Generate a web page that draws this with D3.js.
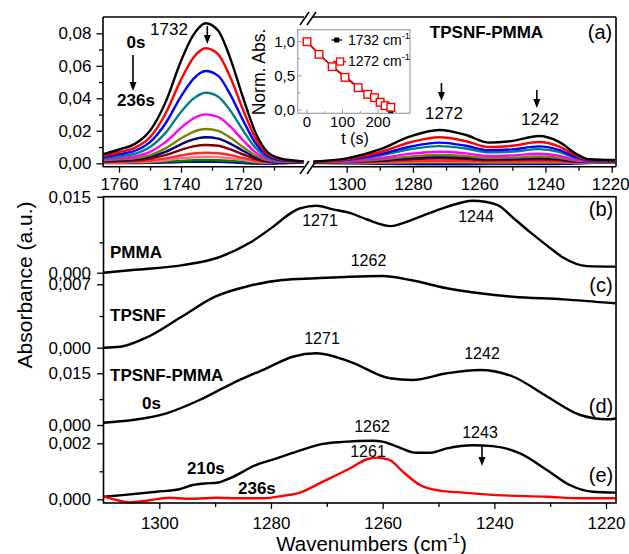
<!DOCTYPE html>
<html><head><meta charset="utf-8">
<script src="https://cdn.jsdelivr.net/npm/d3@7/dist/d3.min.js"></script>
<style>body{margin:0;background:#fff}svg{display:block}</style>
</head><body><svg id="c" width="629" height="554"></svg>
<script>
// ---------------- DATA ----------------
// Panel (a): wavenumber grids
const wnLeft  = [1765,1760,1755,1750,1745,1740,1736,1732,1728,1724,1720,1716,1712,1708,1704,1700.5];
const wnRight = [1310,1300,1290,1281,1272,1264,1257,1250,1242,1236,1231,1227,1219];
// Panel (a): spectra (0 s ... 236 s), C=O region
const left01 = [0.0057,0.0085,0.0118,0.0200,0.0375,0.0630,0.0790,0.0862,0.0815,0.0640,0.0405,0.0190,0.0068,0.0030,0.0018,0.0012];
const left02 = [0.0045,0.0068,0.0095,0.0160,0.0305,0.0515,0.0650,0.0708,0.0670,0.0525,0.0330,0.0155,0.0055,0.0025,0.0016,0.0012];
const left03 = [0.0037,0.0055,0.0076,0.0130,0.0245,0.0412,0.0520,0.0568,0.0538,0.0420,0.0265,0.0125,0.0045,0.0020,0.0014,0.0012];
const left04 = [0.0030,0.0043,0.0058,0.0100,0.0187,0.0316,0.0398,0.0434,0.0410,0.0322,0.0203,0.0096,0.0035,0.0016,0.0012,0.0011];
const left05 = [0.0024,0.0032,0.0042,0.0070,0.0130,0.0218,0.0276,0.0301,0.0285,0.0224,0.0142,0.0067,0.0025,0.0012,0.0010,0.0010];
const left06 = [0.0018,0.0024,0.0031,0.0050,0.0092,0.0153,0.0194,0.0211,0.0200,0.0157,0.0100,0.0048,0.0018,0.0009,0.0008,0.0009];
const left07 = [0.0014,0.0019,0.0025,0.0040,0.0070,0.0117,0.0147,0.0160,0.0152,0.0120,0.0077,0.0037,0.0012,0.0004,0.0005,0.0008];
const left08 = [0.0010,0.0014,0.0018,0.0029,0.0050,0.0083,0.0104,0.0113,0.0108,0.0085,0.0055,0.0027,0.0010,0.0004,0.0004,0.0007];
const left09 = [0.0006,0.0008,0.0011,0.0017,0.0030,0.0048,0.0060,0.0065,0.0062,0.0050,0.0033,0.0017,0.0007,0.0003,0.0004,0.0006];
const left10 = [0.0004,0.0005,0.0007,0.0011,0.0019,0.0030,0.0037,0.0040,0.0038,0.0031,0.0021,0.0011,0.0004,0.0002,0.0003,0.0005];
const left11 = [0.0003,0.0003,0.0004,0.0006,0.0010,0.0015,0.0019,0.0020,0.0019,0.0015,0.0010,0.0005,0.0002,0.0001,0.0002,0.0004];
const left12 = [0.0002,0.0002,0.0002,0.0003,0.0005,0.0008,0.0010,0.0010,0.0009,0.0006,0.0002,-0.0002,-0.0003,0.0000,0.0004,0.0006];
// Panel (a): spectra, C-O-C region
const right01 = [0.0010,0.0030,0.0085,0.0164,0.0205,0.0174,0.0127,0.0137,0.0168,0.0133,0.0062,0.0025,0.0020];
const right02 = [0.0010,0.0025,0.0068,0.0128,0.0160,0.0136,0.0100,0.0108,0.0131,0.0104,0.0050,0.0022,0.0019];
const right03 = [0.0010,0.0021,0.0055,0.0102,0.0127,0.0108,0.0080,0.0086,0.0104,0.0083,0.0040,0.0019,0.0018];
const right04 = [0.0010,0.0018,0.0047,0.0086,0.0106,0.0091,0.0067,0.0072,0.0087,0.0070,0.0034,0.0017,0.0017];
const right05 = [0.0009,0.0014,0.0032,0.0058,0.0071,0.0061,0.0045,0.0049,0.0059,0.0047,0.0023,0.0014,0.0015];
const right06 = [0.0008,0.0011,0.0023,0.0041,0.0051,0.0044,0.0033,0.0035,0.0042,0.0034,0.0017,0.0012,0.0014];
const right07 = [0.0007,0.0009,0.0018,0.0031,0.0040,0.0034,0.0025,0.0027,0.0032,0.0026,0.0013,0.0010,0.0012];
const right08 = [0.0006,0.0008,0.0014,0.0025,0.0031,0.0027,0.0020,0.0021,0.0025,0.0021,0.0010,0.0009,0.0011];
const right09 = [0.0005,0.0006,0.0008,0.0013,0.0016,0.0014,0.0011,0.0011,0.0013,0.0011,0.0007,0.0007,0.0010];
const right10 = [0.0004,0.0004,0.0005,0.0008,0.0010,0.0009,0.0007,0.0007,0.0008,0.0007,0.0005,0.0006,0.0009];
const right11 = [0.0003,0.0002,0.0002,0.0003,0.0004,0.0003,0.0002,0.0002,0.0003,0.0003,0.0003,0.0005,0.0008];
const right12 = [0.0002,0.0000,-0.0003,-0.0005,-0.0006,-0.0006,-0.0005,-0.0005,-0.0005,-0.0004,-0.0002,0.0002,0.0006];
const specColors = ["#000000","#ff0000","#0000ff","#008080","#ff00ff","#808000","#000080","#800000","#ff2a2a","#ff6f8f","#008000","#0000a8"];

// Inset
const insetTime = [0,34,71,107,144,171,190,206,220,236];
const inset1732 = [1.0,0.815,0.64,0.49,0.335,0.225,0.165,0.10,0.05,-0.01];
const inset1272 = [1.0,0.815,0.634,0.478,0.327,0.229,0.180,0.113,0.063,0.040];

// Panel (b) PMMA
const pmmaWn  = [1310,1304.8,1295.8,1289.7,1283.8,1279.7,1276.1,1274.8,1271.8,1268.9,1265.9,1262.8,1258.5,1255.6,1251.5,1248.5,1243.8,1239.5,1236.6,1233.6,1230.5,1227.7,1223.4,1218.3];
const pmmaAbs = [0,0.00053,0.0015,0.0029,0.0059,0.0090,0.0120,0.0127,0.0132,0.0125,0.0118,0.0105,0.0092,0.0101,0.0118,0.0130,0.0142,0.0134,0.0108,0.0080,0.0053,0.0030,0.0013,0.0012];
// Panel (c) TPSNF
const tpsnfWn  = [1310,1307,1302,1296,1290,1284,1278,1272,1266,1260,1255,1248.5,1242.6,1236.7,1227.7,1218.3];
const tpsnfAbs = [0,0.00011,0.00121,0.00342,0.00563,0.00681,0.00747,0.00766,0.00784,0.00792,0.00747,0.00656,0.00601,0.00563,0.00534,0.0049];
// Panel (d) TPSNF-PMMA 0 s
const blend0Wn  = [1310,1304.8,1298.7,1292.8,1286.9,1280.8,1276.1,1271.8,1265.9,1258.7,1254.6,1248.5,1242.6,1236.6,1230.5,1224.6,1219.8,1218.2];
const blend0Abs = [0.00067,0.00145,0.0034,0.00725,0.0121,0.01645,0.0198,0.0208,0.0184,0.01355,0.01306,0.0150,0.01596,0.0140,0.0082,0.0029,0.00165,0.0019];
// Panel (e) 210 s and 236 s
const b210Wn  = [1310,1306.6,1300.5,1296.4,1294.0,1291.5,1289.7,1287.4,1282.6,1279.0,1275.4,1270.7,1267.1,1261.7,1260.0,1257.4,1253.9,1251.5,1248.5,1243.8,1240.3,1235.4,1230.6,1226.5,1222.4,1218.3];
const b210Abs = [0.000093,0.00015,0.00027,0.00036,0.00051,0.00057,0.00059,0.00075,0.00123,0.00146,0.0017,0.00198,0.00205,0.00209,0.00206,0.00188,0.00166,0.00166,0.00182,0.00193,0.0019,0.00164,0.00105,0.00051,0.00027,0.00024];
const b236Wn  = [1310,1307.7,1305.3,1302.3,1298.2,1294.6,1289.7,1285.6,1281.5,1277.9,1274.8,1270.7,1265.9,1262.8,1261.0,1259.2,1258.7,1256.4,1253.3,1249.8,1245.6,1239.6,1230.6,1224.6,1218.3];
const b236Abs = [0.000093,-0.000025,-0.00011,-0.00005,0.000057,0.00002,0.000057,0.000036,0.000036,0.00012,0.00024,0.00063,0.0011,0.00143,0.00149,0.00143,0.0014,0.00099,0.00051,0.00031,0.00024,0.00015,0.000093,0.000036,0.000036];

// Tick values
const topYTicks = [0,0.02,0.04,0.06,0.08], topYMinor = [0.01,0.03,0.05,0.07];
const topXLeftTicks = [1760,1740,1720], topXLeftMinor = [1750,1730,1710];
const topXRightTicks = [1300,1280,1260,1240,1220], topXRightMinor = [1290,1270,1250,1230];
const botXTicks = [1300,1280,1260,1240,1220], botXMinor = [1290,1270,1250,1230];

// ---------------- DRAW ----------------
const FONT = '"Liberation Sans", Arial, Helvetica, sans-serif';
const svg = d3.select("#c").attr("font-family", FONT);
const fmt = n => d => d3.format("." + n + "f")(d).replace(".", ",");

// scales
const xL = d3.scaleLinear().domain([1760,1720]).range([119,243]);
const xR = d3.scaleLinear().domain([1300,1220]).range([346.7,611.7]);
const yA = d3.scaleLinear().domain([0,0.08]).range([163.3,33.3]);
const xB = d3.scaleLinear().domain([1300,1220]).range([159.3,606]);
const yB = d3.scaleLinear().domain([0,0.015]).range([272.7,196.7]);
const yC = d3.scaleLinear().domain([0,0.007]).range([347.7,284.3]);
const yD = d3.scaleLinear().domain([0,0.015]).range([425,373.3]);
const yE = d3.scaleLinear().domain([0,0.002]).range([499.3,443.3]);
const xI = d3.scaleLinear().domain([0,200]).range([307,378]);
const yI = d3.scaleLinear().domain([0,1]).range([110,41.7]);

const defs = svg.append("defs");
defs.append("clipPath").attr("id","clipL").append("rect").attr("x",103).attr("y",17).attr("width",201).attr("height",150);
defs.append("clipPath").attr("id","clipR").append("rect").attr("x",313).attr("y",17).attr("width",303).attr("height",150);

function styleAxis(g, fs) {
  g.select(".domain").remove();
  g.attr("font-family", FONT).attr("font-size", fs);
  g.selectAll("line").attr("stroke","#000").attr("stroke-width",1.3);
  g.selectAll("text").attr("fill","#000");
  return g;
}
const line = (xs, ys) => d3.line().x(d => xs(d[0])).y(d => ys(d[1])).curve(d3.curveMonotoneX);

// ---- Panel (a) spectra ----
const leftSeries = [left01,left02,left03,left04,left05,left06,left07,left08,left09,left10,left11,left12];
const rightSeries = [right01,right02,right03,right04,right05,right06,right07,right08,right09,right10,right11,right12];
const gL = svg.append("g").attr("clip-path","url(#clipL)");
const gR = svg.append("g").attr("clip-path","url(#clipR)");
for (let i = leftSeries.length - 1; i >= 0; i--) {
  gL.append("path").datum(d3.zip(wnLeft, leftSeries[i])).attr("d", line(xL, yA))
    .attr("fill","none").attr("stroke",specColors[i]).attr("stroke-width",2.4).attr("stroke-linejoin","round");
  gR.append("path").datum(d3.zip(wnRight, rightSeries[i])).attr("d", line(xR, yA))
    .attr("fill","none").attr("stroke",specColors[i]).attr("stroke-width",2.4).attr("stroke-linejoin","round");
}

// Panel (a) axes
styleAxis(svg.append("g").attr("transform","translate(103,0)")
  .call(d3.axisLeft(yA).tickValues(topYTicks).tickFormat(fmt(2)).tickSize(6.5).tickPadding(5)), 17);
styleAxis(svg.append("g").attr("transform","translate(103,0)")
  .call(d3.axisLeft(yA).tickValues(topYMinor).tickFormat("").tickSize(4)), 17);
styleAxis(svg.append("g").attr("transform","translate(0,166.7)")
  .call(d3.axisBottom(xL).tickValues(topXLeftTicks).tickFormat(d3.format("d")).tickSize(6).tickPadding(5)), 17);
styleAxis(svg.append("g").attr("transform","translate(0,166.7)")
  .call(d3.axisBottom(xL).tickValues(topXLeftMinor).tickFormat("").tickSize(4)), 17);
const axR = styleAxis(svg.append("g").attr("transform","translate(0,166.7)")
  .call(d3.axisBottom(xR).tickValues(topXRightTicks).tickFormat(d3.format("d")).tickSize(6).tickPadding(5)), 17);
axR.selectAll("text").filter(d => d === 1220).attr("dx", -1.5);
styleAxis(svg.append("g").attr("transform","translate(0,166.7)")
  .call(d3.axisBottom(xR).tickValues(topXRightMinor).tickFormat("").tickSize(4)), 17);

// Panel (a) frame (broken)
const fr = svg.append("g").attr("stroke","#000").attr("stroke-width",1.6).attr("fill","none");
[[103,17,304,17],[313,17,616,17],[103,166.7,304,166.7],[313,166.7,616,166.7],[103,17,103,166.7],[616,17,616,166.7]]
  .forEach(s => fr.append("line").attr("x1",s[0]).attr("y1",s[1]).attr("x2",s[2]).attr("y2",s[3]));
// break marks
const br = svg.append("g").attr("stroke","#000").attr("stroke-width",1.5);
[[300,25,309,12],[307,25,316,12],[300,174,309,161],[307,174,316,161]]
  .forEach(s => br.append("line").attr("x1",s[0]).attr("y1",s[1]).attr("x2",s[2]).attr("y2",s[3]));

// arrows
function arrow(x, y1, y2) {
  svg.append("line").attr("x1",x).attr("y1",y1).attr("x2",x).attr("y2",y2-6).attr("stroke","#000").attr("stroke-width",1.6);
  svg.append("path").attr("d",`M${x-3.5},${y2-9}L${x+3.5},${y2-9}L${x},${y2}Z`).attr("fill","#000");
}
function txt(x, y, s, opt = {}) {
  return svg.append("text").attr("x",x).attr("y",y).text(s)
    .attr("font-size", opt.fs || 17).attr("font-weight", opt.bold ? "bold" : "normal")
    .attr("text-anchor", opt.anchor || "middle").attr("fill","#000");
}
txt(169,35,"1732");
arrow(xL(1732)+1.5, 26, 44);
txt(136,48,"0s",{bold:true});
arrow(133, 55, 91);
txt(136,106,"236s",{bold:true});
txt(486.5,38,"TPSNF-PMMA",{bold:true});
txt(600,39,"(a)",{fs:20});
txt(444,119,"1272");
arrow(xR(1272)+2, 83, 101);
txt(540,125,"1242");
arrow(xR(1242)-2, 90, 108);

// ---- Inset ----
svg.append("rect").attr("x",297.7).attr("y",29.7).attr("width",112.3).attr("height",83.6)
  .attr("fill","#fff").attr("stroke","#a0a0a0").attr("stroke-width",1.2);
const gi = svg.append("g");
[0,0.25,0.5,0.75,1].forEach(v => gi.append("line").attr("x1",297.7).attr("x2",v*4%2===0?302:300.5)
  .attr("y1",yI(v)).attr("y2",yI(v)).attr("stroke","#a0a0a0").attr("stroke-width",1));
[0,50,100,150,200,250].forEach(v => gi.append("line").attr("x1",xI(v)).attr("x2",xI(v))
  .attr("y1",113.3).attr("y2",v%100===0?109:111).attr("stroke","#a0a0a0").attr("stroke-width",1));
[0,0.5,1].forEach(v => txt(295, yI(v)+5, fmt(1)(v), {fs:15, anchor:"end"}));
[0,100,200].forEach(v => txt(xI(v), 127, String(v), {fs:15}));
txt(355,144,"t (s)",{fs:16});
svg.append("text").attr("transform","translate(265,72) rotate(-90)").attr("text-anchor","middle")
  .attr("font-size",17.5).attr("fill","#000").text("Norm. Abs.");
const lI = d3.line().x(d => xI(d[0])).y(d => yI(d[1]));
const d1732 = d3.zip(insetTime, inset1732), d1272 = d3.zip(insetTime, inset1272);
gi.append("path").datum(d1732).attr("d",lI).attr("fill","none").attr("stroke","#000").attr("stroke-width",1.4);
gi.selectAll(".m1").data(d1732).join("rect").attr("x",d=>xI(d[0])-2.5).attr("y",d=>yI(d[1])-2.5)
  .attr("width",5).attr("height",5).attr("fill","#000");
gi.append("path").datum(d1272).attr("d",lI).attr("fill","none").attr("stroke","#ff0000").attr("stroke-width",1.4);
gi.selectAll(".m2").data(d1272).join("rect").attr("x",d=>xI(d[0])-3.8).attr("y",d=>yI(d[1])-3.8)
  .attr("width",7.6).attr("height",7.6).attr("fill","#fff").attr("stroke","#ff0000").attr("stroke-width",1.4);
// inset legend
gi.append("line").attr("x1",331.5).attr("x2",342).attr("y1",40).attr("y2",40).attr("stroke","#000").attr("stroke-width",1.4);
gi.append("rect").attr("x",334.2).attr("y",37.5).attr("width",5).attr("height",5).attr("fill","#000");
gi.append("line").attr("x1",333).attr("x2",346).attr("y1",61.5).attr("y2",61.5).attr("stroke","#ff0000").attr("stroke-width",1.4);
gi.append("rect").attr("x",336.5).attr("y",58).attr("width",7).attr("height",7).attr("fill","#fff").attr("stroke","#ff0000").attr("stroke-width",1.3);
[[45,"1732 cm"],[66,"1272 cm"]].forEach(([y,s]) => {
  const t = txt(348,y,s,{fs:14,anchor:"start"});
  t.append("tspan").attr("dy",-6).attr("font-size",9.5).text("-1");
});

// ---- Panels (b)-(e) ----
const curves = [
  [pmmaWn, pmmaAbs, yB, "#000"],
  [tpsnfWn, tpsnfAbs, yC, "#000"],
  [blend0Wn, blend0Abs, yD, "#000"],
  [b210Wn, b210Abs, yE, "#000"],
  [b236Wn, b236Abs, yE, "#ff0000"]
];
curves.forEach(([w,a,ys,col]) => {
  svg.append("path").datum(d3.zip(w,a)).attr("d", line(xB, ys))
    .attr("fill","none").attr("stroke",col).attr("stroke-width",2.4).attr("stroke-linejoin","round");
});
// y axes
[[yB,[0,0.015],[0.006],3],[yC,[0,0.007],[0.0035],3],[yD,[0,0.015],[0.0075],3],[yE,[0,0.002],[0.001],3]]
  .forEach(([ys,maj,mn,n]) => {
    styleAxis(svg.append("g").attr("transform","translate(103.5,0)")
      .call(d3.axisLeft(ys).tickValues(maj).tickFormat(fmt(n)).tickSize(6.5).tickPadding(6)), 17);
    styleAxis(svg.append("g").attr("transform","translate(103.5,0)")
      .call(d3.axisLeft(ys).tickValues(mn).tickFormat("").tickSize(4)), 17);
  });
styleAxis(svg.append("g").attr("transform","translate(0,503)")
  .call(d3.axisBottom(xB).tickValues(botXTicks).tickFormat(d3.format("d")).tickSize(6).tickPadding(7.5)), 17);
styleAxis(svg.append("g").attr("transform","translate(0,503)")
  .call(d3.axisBottom(xB).tickValues(botXMinor).tickFormat("").tickSize(4)), 17);
svg.append("rect").attr("x",103.5).attr("y",196.7).attr("width",512.5).attr("height",306.3)
  .attr("fill","none").attr("stroke","#000").attr("stroke-width",1.6);

// labels (b)-(e)
txt(320,226,"1271",{fs:16});
txt(476,222,"1244",{fs:16});
txt(110,258,"PMMA",{bold:true,anchor:"start"});
txt(601,216,"(b)",{fs:20});
txt(368.5,266,"1262",{fs:16});
txt(110,321,"TPSNF",{bold:true,anchor:"start"});
txt(601,292,"(c)",{fs:20});
txt(322,344,"1271",{fs:16});
txt(482,359,"1242",{fs:16});
txt(110,381,"TPSNF-PMMA",{bold:true,anchor:"start"});
txt(142,409,"0s",{bold:true,anchor:"start"});
txt(601,413,"(d)",{fs:20});
txt(372,432,"1262",{fs:16});
txt(368,457,"1261",{fs:16});
txt(480,438,"1243",{fs:16});
arrow(482, 446, 466);
txt(187,474,"210s",{bold:true,anchor:"start"});
txt(238,494,"236s",{bold:true,anchor:"start"});
txt(601,482,"(e)",{fs:20});

// axis titles
svg.append("text").attr("transform","translate(32,285) rotate(-90)").attr("text-anchor","middle")
  .attr("font-size",21).attr("fill","#000").text("Absorbance (a.u.)");
const xt = svg.append("text").attr("x",371.5).attr("y",550.5).attr("text-anchor","middle")
  .attr("font-size",20.5).attr("fill","#000").text("Wavenumbers (cm");
xt.append("tspan").attr("dy",-8).attr("font-size",14).text("-1");
xt.append("tspan").attr("dy",8).text(")");
</script></body></html>
